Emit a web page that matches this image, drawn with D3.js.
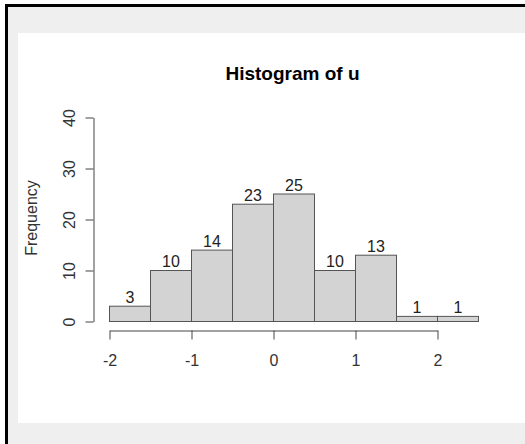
<!DOCTYPE html>
<html>
<head>
<meta charset="utf-8">
<script src="https://cdn.jsdelivr.net/npm/d3@7"></script>
<style>
  html, body { margin: 0; padding: 0; background: #ffffff; }
  svg { display: block; }
  text { font-family: "Liberation Sans", Arial, sans-serif; }
</style>
</head>
<body>
<svg id="chart" width="525" height="444"></svg>
<script>
// Histogram bins (left edges) and their counts
const binEdges = [-2, -1.5, -1, -0.5, 0, 0.5, 1, 1.5, 2, 2.5];
const counts = [3, 10, 14, 23, 25, 10, 13, 1, 1];
const xTicks = [-2, -1, 0, 1, 2];
const yTicks = [0, 10, 20, 30, 40];
const title = "Histogram of u";
const yLabel = "Frequency";

const svg = d3.select("#chart");
const labelSize = 16;

// Frame: grey surround, white plotting sheet, dark edges
svg.append("rect").attr("x", 0).attr("y", 0).attr("width", 525).attr("height", 444).attr("fill", "#ffffff");
svg.append("rect").attr("x", 7).attr("y", 6).attr("width", 518).attr("height", 438).attr("fill", "#efefef");
svg.append("rect").attr("x", 18).attr("y", 33).attr("width", 507).attr("height", 390).attr("fill", "#ffffff");
svg.append("rect").attr("x", 5).attr("y", 4).attr("width", 520).attr("height", 3).attr("fill", "#000");
svg.append("rect").attr("x", 5).attr("y", 4).attr("width", 3).attr("height", 440).attr("fill", "#000");

const x = d3.scaleLinear().domain([-2, 2]).range([109, 437]);
const y = d3.scaleLinear().domain([0, 40]).range([321, 117]);

const bins = counts.map((c, i) => ({ x0: binEdges[i], x1: binEdges[i + 1], n: c }));

// Bars
svg.append("g").selectAll("rect").data(bins).join("rect")
  .attr("x", d => x(d.x0) + 0.5)
  .attr("y", d => y(d.n) + 0.5)
  .attr("width", d => x(d.x1) - x(d.x0))
  .attr("height", d => y(0) - y(d.n))
  .attr("fill", "#d3d3d3")
  .attr("stroke", "#555")
  .attr("stroke-width", 1);

// Count labels above each bar
svg.append("g").selectAll("text").data(bins).join("text")
  .attr("x", d => (x(d.x0) + x(d.x1)) / 2 + 0.5)
  .attr("y", d => y(d.n) - 3)
  .attr("text-anchor", "middle")
  .attr("font-size", labelSize)
  .attr("fill", "#222")
  .text(d => d.n);

// X axis below the bars
const xAxis = svg.append("g").attr("transform", "translate(0.5,330.5)")
  .call(d3.axisBottom(x).tickValues(xTicks).tickSize(9).tickSizeOuter(0)
    .tickFormat(d => d < 0 ? "-" + Math.abs(d) : d));
xAxis.select(".domain").attr("stroke", "#444");
xAxis.selectAll(".tick line").attr("stroke", "#444");
xAxis.selectAll(".tick text")
  .attr("y", 35.5).attr("dy", 0)
  .attr("font-size", labelSize).attr("fill", "#333")
  .attr("font-family", "Liberation Sans, Arial, sans-serif");

// Y axis with rotated tick labels
const yAxis = svg.append("g").attr("transform", "translate(93.5,0.5)")
  .call(d3.axisLeft(y).tickValues(yTicks).tickSize(8).tickSizeOuter(0));
yAxis.select(".domain").attr("stroke", "#444");
yAxis.selectAll(".tick line").attr("stroke", "#444");
yAxis.selectAll(".tick text").remove();
yAxis.selectAll(".tick").append("text")
  .attr("transform", "translate(-24,0) rotate(-90)")
  .attr("text-anchor", "middle")
  .attr("dy", "0.35em")
  .attr("font-size", labelSize)
  .attr("fill", "#333")
  .text(d => d);

// Title and y label
svg.append("text").attr("x", 292.5).attr("y", 80)
  .attr("text-anchor", "middle").attr("font-size", 19).attr("font-weight", "bold")
  .attr("fill", "#000").text(title);
svg.append("text")
  .attr("transform", "translate(37,218) rotate(-90)")
  .attr("text-anchor", "middle").attr("font-size", labelSize).attr("fill", "#333")
  .text(yLabel);
</script>
</body>
</html>
